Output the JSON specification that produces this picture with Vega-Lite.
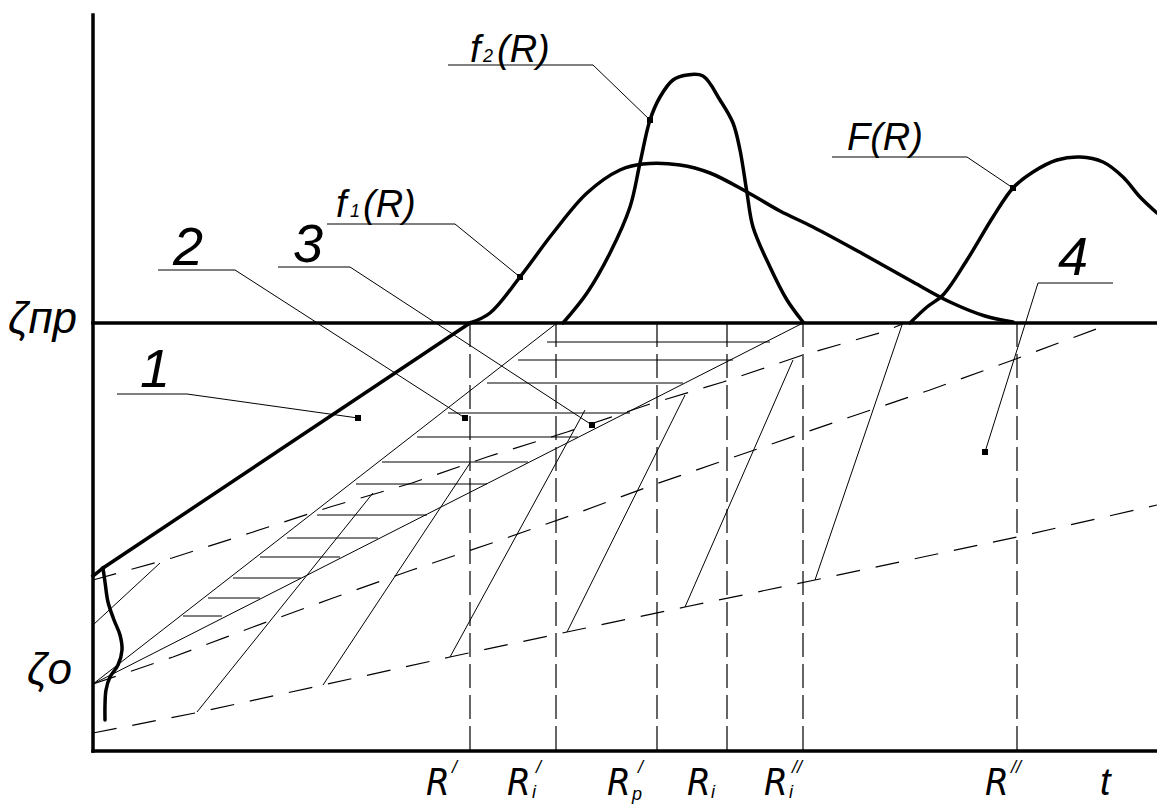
{
  "$schema": "https://vega.github.io/schema/vega-lite/v6.json",
  "width": 1157,
  "height": 805,
  "autosize": {"type": "none"},
  "padding": 0,
  "background": "white",
  "config": {"view": {"stroke": null}},
  "datasets": {
    "thin": [
      {"x1": 93, "y1": 684, "x2": 557, "y2": 323},
      {"x1": 93, "y1": 684, "x2": 803, "y2": 323},
      {"x1": 93, "y1": 625, "x2": 160, "y2": 563},
      {"x1": 197, "y1": 712, "x2": 373, "y2": 493},
      {"x1": 323, "y1": 685, "x2": 470, "y2": 463},
      {"x1": 450, "y1": 657, "x2": 585, "y2": 410},
      {"x1": 567, "y1": 632, "x2": 685, "y2": 395},
      {"x1": 685, "y1": 607, "x2": 793, "y2": 360},
      {"x1": 815, "y1": 580, "x2": 902, "y2": 325},
      {"x1": 547, "y1": 342, "x2": 770, "y2": 342},
      {"x1": 518, "y1": 360, "x2": 733, "y2": 360},
      {"x1": 487, "y1": 383, "x2": 683, "y2": 383},
      {"x1": 448, "y1": 413, "x2": 630, "y2": 413},
      {"x1": 417, "y1": 437, "x2": 578, "y2": 437},
      {"x1": 382, "y1": 462, "x2": 528, "y2": 462},
      {"x1": 356, "y1": 484, "x2": 487, "y2": 484},
      {"x1": 317, "y1": 515, "x2": 427, "y2": 515},
      {"x1": 287, "y1": 538, "x2": 378, "y2": 538},
      {"x1": 260, "y1": 557, "x2": 340, "y2": 557},
      {"x1": 233, "y1": 578, "x2": 301, "y2": 578},
      {"x1": 208, "y1": 598, "x2": 260, "y2": 598},
      {"x1": 183, "y1": 616, "x2": 222, "y2": 616},
      {"x1": 117, "y1": 394, "x2": 187, "y2": 394},
      {"x1": 187, "y1": 394, "x2": 358, "y2": 418},
      {"x1": 158, "y1": 270, "x2": 235, "y2": 270},
      {"x1": 235, "y1": 270, "x2": 465, "y2": 418},
      {"x1": 278, "y1": 267, "x2": 350, "y2": 267},
      {"x1": 350, "y1": 267, "x2": 592, "y2": 425},
      {"x1": 327, "y1": 224, "x2": 455, "y2": 224},
      {"x1": 455, "y1": 224, "x2": 520, "y2": 277},
      {"x1": 448, "y1": 65, "x2": 593, "y2": 65},
      {"x1": 593, "y1": 65, "x2": 650, "y2": 120},
      {"x1": 832, "y1": 157, "x2": 967, "y2": 157},
      {"x1": 967, "y1": 157, "x2": 1013, "y2": 188},
      {"x1": 1038, "y1": 283, "x2": 1113, "y2": 283},
      {"x1": 1038, "y1": 283, "x2": 985, "y2": 452}
    ],
    "verticals": [
      {"x": 470, "y1": 323, "y2": 751},
      {"x": 556, "y1": 323, "y2": 751},
      {"x": 657, "y1": 323, "y2": 751},
      {"x": 727, "y1": 323, "y2": 751},
      {"x": 803, "y1": 323, "y2": 751},
      {"x": 1017, "y1": 323, "y2": 751}
    ],
    "dashed": [
      {"id": "D1", "i": 0, "x": 93, "y": 733}, {"id": "D1", "i": 1, "x": 200, "y": 712}, {"id": "D1", "i": 2, "x": 323, "y": 685}, {"id": "D1", "i": 3, "x": 450, "y": 657}, {"id": "D1", "i": 4, "x": 567, "y": 632}, {"id": "D1", "i": 5, "x": 685, "y": 607}, {"id": "D1", "i": 6, "x": 815, "y": 580}, {"id": "D1", "i": 7, "x": 1017, "y": 537}, {"id": "D1", "i": 8, "x": 1157, "y": 505},
      {"id": "D2", "i": 0, "x": 93, "y": 684}, {"id": "D2", "i": 1, "x": 173, "y": 657}, {"id": "D2", "i": 2, "x": 253, "y": 627}, {"id": "D2", "i": 3, "x": 333, "y": 598}, {"id": "D2", "i": 4, "x": 412, "y": 570}, {"id": "D2", "i": 5, "x": 492, "y": 543}, {"id": "D2", "i": 6, "x": 572, "y": 515}, {"id": "D2", "i": 7, "x": 653, "y": 485}, {"id": "D2", "i": 8, "x": 763, "y": 447}, {"id": "D2", "i": 9, "x": 850, "y": 417}, {"id": "D2", "i": 10, "x": 930, "y": 390}, {"id": "D2", "i": 11, "x": 1013, "y": 360}, {"id": "D2", "i": 12, "x": 1107, "y": 325},
      {"id": "D3", "i": 0, "x": 93, "y": 580}, {"id": "D3", "i": 1, "x": 172, "y": 558}, {"id": "D3", "i": 2, "x": 250, "y": 533}, {"id": "D3", "i": 3, "x": 330, "y": 507}, {"id": "D3", "i": 4, "x": 412, "y": 483}, {"id": "D3", "i": 5, "x": 487, "y": 457}, {"id": "D3", "i": 6, "x": 567, "y": 432}, {"id": "D3", "i": 7, "x": 647, "y": 405}, {"id": "D3", "i": 8, "x": 723, "y": 382}, {"id": "D3", "i": 9, "x": 803, "y": 355}, {"id": "D3", "i": 10, "x": 883, "y": 332}, {"id": "D3", "i": 11, "x": 905, "y": 323}
    ],
    "boldCurves": [
      {"id": "f1", "i": 0, "x": 470, "y": 323}, {"id": "f1", "i": 1, "x": 490, "y": 313}, {"id": "f1", "i": 2, "x": 520, "y": 277}, {"id": "f1", "i": 3, "x": 553, "y": 233}, {"id": "f1", "i": 4, "x": 587, "y": 193}, {"id": "f1", "i": 5, "x": 620, "y": 170}, {"id": "f1", "i": 6, "x": 643, "y": 164}, {"id": "f1", "i": 7, "x": 680, "y": 165}, {"id": "f1", "i": 8, "x": 710, "y": 173}, {"id": "f1", "i": 9, "x": 747, "y": 192}, {"id": "f1", "i": 10, "x": 780, "y": 211}, {"id": "f1", "i": 11, "x": 813, "y": 227}, {"id": "f1", "i": 12, "x": 863, "y": 254}, {"id": "f1", "i": 13, "x": 913, "y": 282}, {"id": "f1", "i": 14, "x": 950, "y": 302}, {"id": "f1", "i": 15, "x": 985, "y": 316}, {"id": "f1", "i": 16, "x": 1013, "y": 322},
      {"id": "f2", "i": 0, "x": 563, "y": 323}, {"id": "f2", "i": 1, "x": 587, "y": 293}, {"id": "f2", "i": 2, "x": 610, "y": 253}, {"id": "f2", "i": 3, "x": 630, "y": 207}, {"id": "f2", "i": 4, "x": 640, "y": 163}, {"id": "f2", "i": 5, "x": 650, "y": 120}, {"id": "f2", "i": 6, "x": 660, "y": 97}, {"id": "f2", "i": 7, "x": 673, "y": 80}, {"id": "f2", "i": 8, "x": 687, "y": 75}, {"id": "f2", "i": 9, "x": 703, "y": 76}, {"id": "f2", "i": 10, "x": 720, "y": 100}, {"id": "f2", "i": 11, "x": 733, "y": 123}, {"id": "f2", "i": 12, "x": 740, "y": 150}, {"id": "f2", "i": 13, "x": 747, "y": 193}, {"id": "f2", "i": 14, "x": 753, "y": 227}, {"id": "f2", "i": 15, "x": 770, "y": 267}, {"id": "f2", "i": 16, "x": 787, "y": 300}, {"id": "f2", "i": 17, "x": 803, "y": 322},
      {"id": "F", "i": 0, "x": 910, "y": 323}, {"id": "F", "i": 1, "x": 927, "y": 307}, {"id": "F", "i": 2, "x": 943, "y": 295}, {"id": "F", "i": 3, "x": 967, "y": 260}, {"id": "F", "i": 4, "x": 993, "y": 217}, {"id": "F", "i": 5, "x": 1013, "y": 188}, {"id": "F", "i": 6, "x": 1033, "y": 172}, {"id": "F", "i": 7, "x": 1057, "y": 160}, {"id": "F", "i": 8, "x": 1080, "y": 157}, {"id": "F", "i": 9, "x": 1103, "y": 162}, {"id": "F", "i": 10, "x": 1123, "y": 177}, {"id": "F", "i": 11, "x": 1140, "y": 197}, {"id": "F", "i": 12, "x": 1157, "y": 213},
      {"id": "z0", "i": 0, "x": 103, "y": 568}, {"id": "z0", "i": 1, "x": 105, "y": 582}, {"id": "z0", "i": 2, "x": 108, "y": 602}, {"id": "z0", "i": 3, "x": 114, "y": 620}, {"id": "z0", "i": 4, "x": 120, "y": 635}, {"id": "z0", "i": 5, "x": 122, "y": 650}, {"id": "z0", "i": 6, "x": 118, "y": 665}, {"id": "z0", "i": 7, "x": 110, "y": 677}, {"id": "z0", "i": 8, "x": 106, "y": 690}, {"id": "z0", "i": 9, "x": 105, "y": 705}, {"id": "z0", "i": 10, "x": 105, "y": 720}
    ],
    "boldLines": [
      {"x1": 93, "y1": 15, "x2": 93, "y2": 751},
      {"x1": 93, "y1": 751, "x2": 1157, "y2": 751},
      {"x1": 93, "y1": 323, "x2": 1157, "y2": 323},
      {"x1": 103, "y1": 568, "x2": 470, "y2": 323},
      {"x1": 93, "y1": 576, "x2": 103, "y2": 568}
    ],
    "dots": [
      {"x": 358, "y": 418}, {"x": 465, "y": 418}, {"x": 592, "y": 425}, {"x": 520, "y": 277}, {"x": 650, "y": 120}, {"x": 1013, "y": 188}, {"x": 985, "y": 452}
    ],
    "bigText": [
      {"x": 470, "y": 62, "t": "f"}, {"x": 497, "y": 62, "t": "(R)"},
      {"x": 336, "y": 217, "t": "f"}, {"x": 363, "y": 217, "t": "(R)"},
      {"x": 847, "y": 150, "t": "F(R)"},
      {"x": 1100, "y": 795, "t": "t"}
    ],
    "rText": [
      {"x": 426, "y": 795, "t": "R"},
      {"x": 507, "y": 795, "t": "R"},
      {"x": 607, "y": 795, "t": "R"},
      {"x": 687, "y": 795, "t": "R"},
      {"x": 764, "y": 795, "t": "R"},
      {"x": 985, "y": 795, "t": "R"}
    ],
    "smallText": [
      {"x": 483, "y": 62, "t": "2"},
      {"x": 350, "y": 217, "t": "1"},
      {"x": 452, "y": 773, "t": "/"},
      {"x": 532, "y": 798, "t": "i"},
      {"x": 536, "y": 773, "t": "/"},
      {"x": 632, "y": 800, "t": "p"},
      {"x": 638, "y": 773, "t": "/"},
      {"x": 711, "y": 798, "t": "i"},
      {"x": 789, "y": 798, "t": "i"},
      {"x": 792, "y": 773, "t": "//"},
      {"x": 1011, "y": 773, "t": "//"}
    ],
    "digits": [
      {"x": 140, "y": 387, "t": "1"},
      {"x": 173, "y": 265, "t": "2"},
      {"x": 293, "y": 262, "t": "3"},
      {"x": 1058, "y": 275, "t": "4"}
    ],
    "yText": [
      {"x": 8, "y": 333, "t": "ζпр"},
      {"x": 27, "y": 684, "t": "ζo"}
    ]
  },
  "layer": [
    {
      "data": {"name": "thin"},
      "mark": {"type": "rule", "strokeWidth": 1, "color": "black"},
      "encoding": {
        "x": {"field": "x1", "type": "quantitative", "scale": {"domain": [0, 1157], "nice": false, "zero": false}, "axis": null},
        "y": {"field": "y1", "type": "quantitative", "scale": {"domain": [0, 805], "reverse": true, "nice": false, "zero": false}, "axis": null},
        "x2": {"field": "x2"},
        "y2": {"field": "y2"}
      }
    },
    {
      "data": {"name": "verticals"},
      "mark": {"type": "rule", "strokeWidth": 1.2, "color": "black", "strokeDash": [24, 7]},
      "encoding": {
        "x": {"field": "x", "type": "quantitative"},
        "y": {"field": "y1", "type": "quantitative"},
        "y2": {"field": "y2"}
      }
    },
    {
      "data": {"name": "dashed"},
      "mark": {"type": "line", "strokeWidth": 1.2, "color": "black", "strokeDash": [24, 16]},
      "encoding": {
        "x": {"field": "x", "type": "quantitative"},
        "y": {"field": "y", "type": "quantitative"},
        "detail": {"field": "id"},
        "order": {"field": "i", "type": "quantitative"}
      }
    },
    {
      "data": {"name": "boldCurves"},
      "mark": {"type": "line", "strokeWidth": 3.5, "color": "black", "interpolate": "catmull-rom", "strokeCap": "round", "strokeJoin": "round"},
      "encoding": {
        "x": {"field": "x", "type": "quantitative"},
        "y": {"field": "y", "type": "quantitative"},
        "detail": {"field": "id"},
        "order": {"field": "i", "type": "quantitative"}
      }
    },
    {
      "data": {"name": "boldLines"},
      "mark": {"type": "rule", "strokeWidth": 3.5, "color": "black", "strokeCap": "square"},
      "encoding": {
        "x": {"field": "x1", "type": "quantitative"},
        "y": {"field": "y1", "type": "quantitative"},
        "x2": {"field": "x2"},
        "y2": {"field": "y2"}
      }
    },
    {
      "data": {"name": "dots"},
      "mark": {"type": "point", "shape": "square", "filled": true, "size": 36, "color": "black", "opacity": 1},
      "encoding": {
        "x": {"field": "x", "type": "quantitative"},
        "y": {"field": "y", "type": "quantitative"}
      }
    },
    {
      "data": {"name": "bigText"},
      "mark": {"type": "text", "font": "Liberation Sans", "fontStyle": "italic", "fontSize": 38, "align": "left", "baseline": "alphabetic", "color": "black"},
      "encoding": {
        "x": {"field": "x", "type": "quantitative"},
        "y": {"field": "y", "type": "quantitative"},
        "text": {"field": "t"}
      }
    },
    {
      "data": {"name": "rText"},
      "mark": {"type": "text", "font": "Liberation Sans Narrow, DejaVu Sans Condensed, Liberation Sans", "fontStyle": "italic", "fontSize": 38, "align": "left", "baseline": "alphabetic", "color": "black"},
      "encoding": {
        "x": {"field": "x", "type": "quantitative"},
        "y": {"field": "y", "type": "quantitative"},
        "text": {"field": "t"}
      }
    },
    {
      "data": {"name": "smallText"},
      "mark": {"type": "text", "font": "Liberation Sans", "fontStyle": "italic", "fontSize": 18, "align": "left", "baseline": "alphabetic", "color": "black"},
      "encoding": {
        "x": {"field": "x", "type": "quantitative"},
        "y": {"field": "y", "type": "quantitative"},
        "text": {"field": "t"}
      }
    },
    {
      "data": {"name": "digits"},
      "mark": {"type": "text", "font": "Liberation Sans", "fontStyle": "italic", "fontSize": 54, "align": "left", "baseline": "alphabetic", "color": "black"},
      "encoding": {
        "x": {"field": "x", "type": "quantitative"},
        "y": {"field": "y", "type": "quantitative"},
        "text": {"field": "t"}
      }
    },
    {
      "data": {"name": "yText"},
      "mark": {"type": "text", "font": "Liberation Sans", "fontStyle": "italic", "fontSize": 44, "align": "left", "baseline": "alphabetic", "color": "black"},
      "encoding": {
        "x": {"field": "x", "type": "quantitative"},
        "y": {"field": "y", "type": "quantitative"},
        "text": {"field": "t"}
      }
    }
  ]
}
